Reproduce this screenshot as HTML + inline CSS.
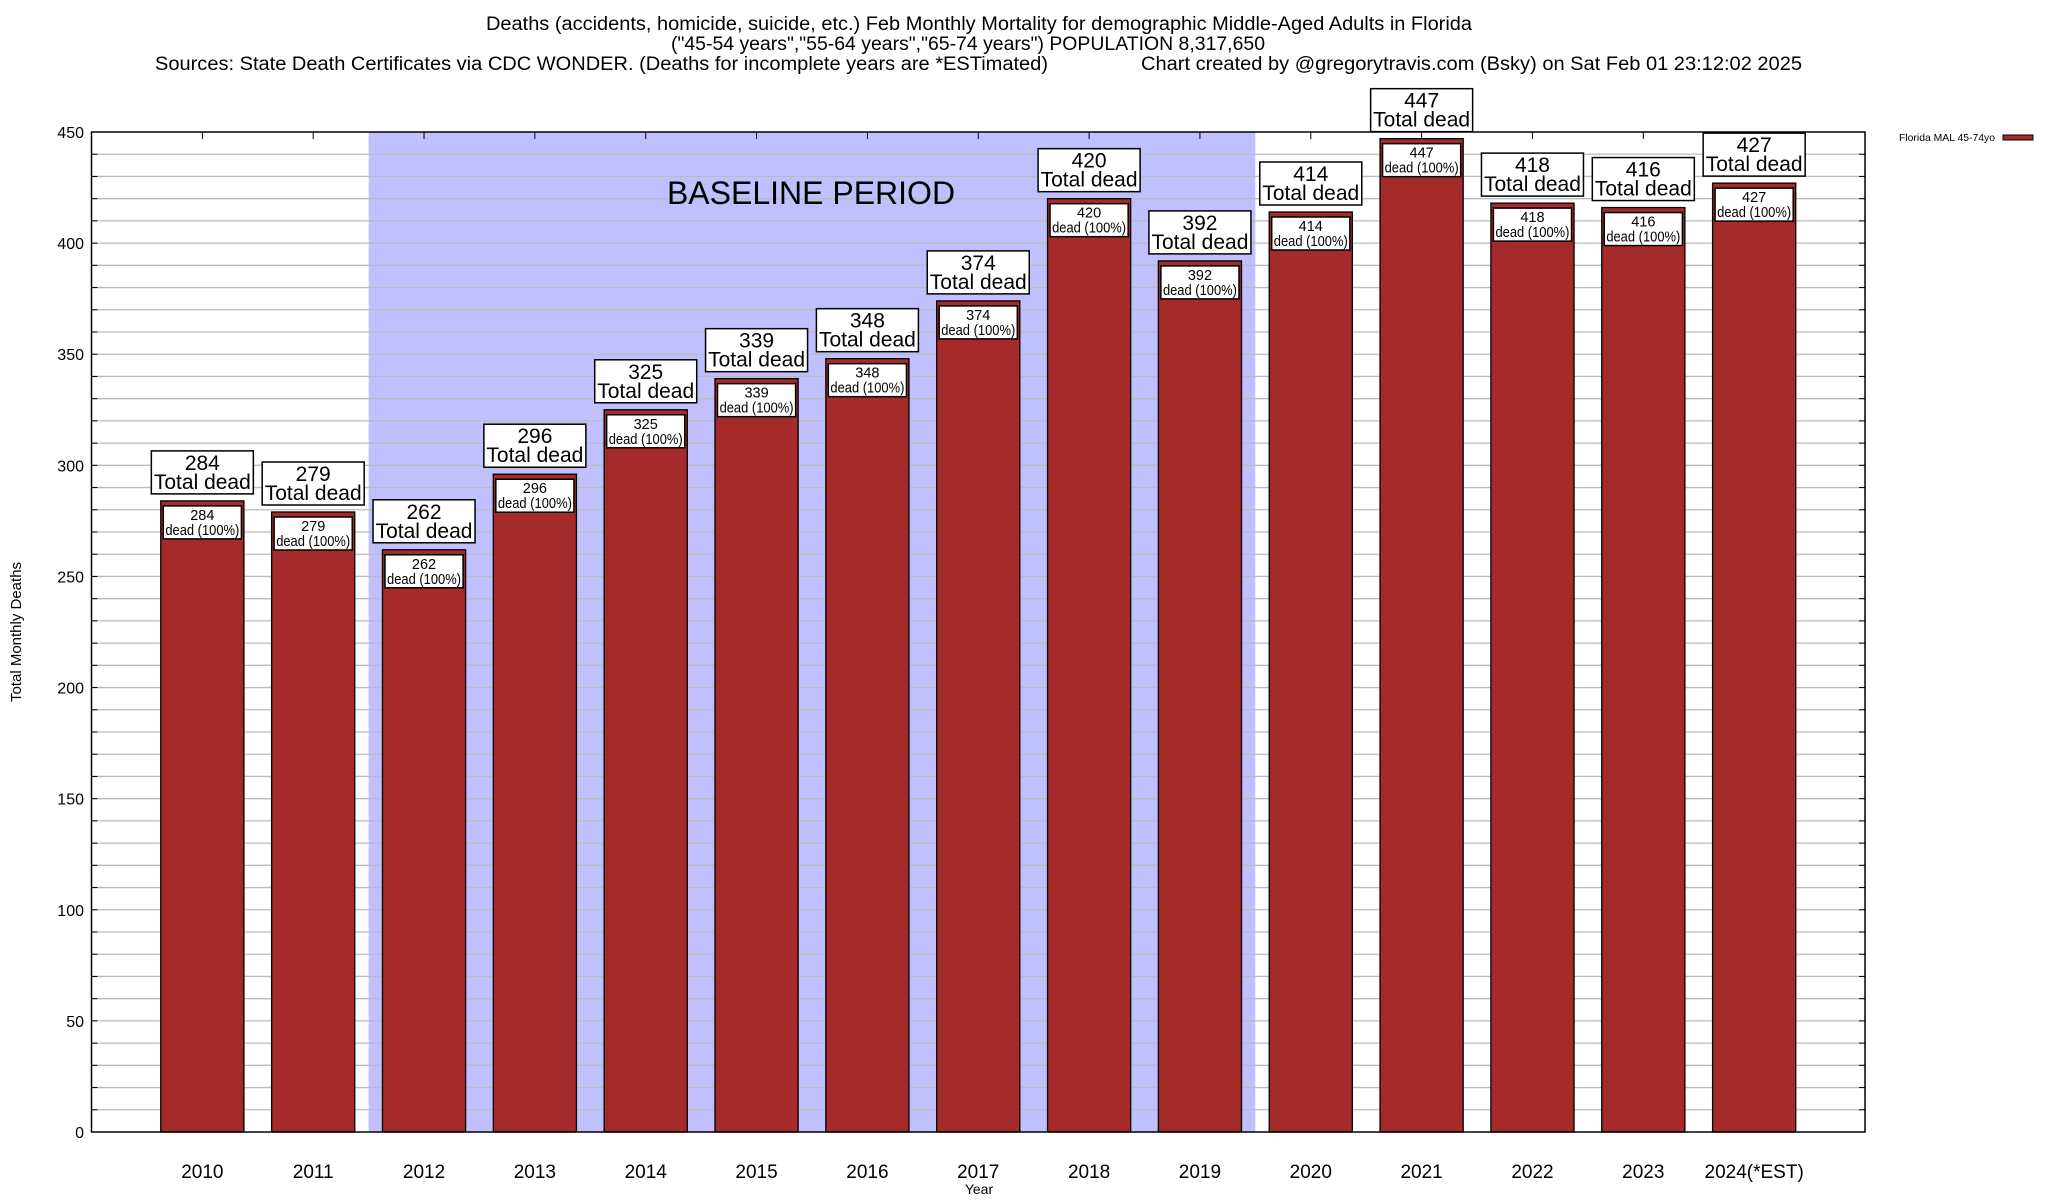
<!DOCTYPE html>
<html><head><meta charset="utf-8">
<style>
html,body{margin:0;padding:0;background:#fff;}
svg{display:block;font-family:"Liberation Sans",Arial,sans-serif;}
</style></head>
<body>
<svg id="chart" width="2048" height="1200" viewBox="0 0 2048 1200" xmlns="http://www.w3.org/2000/svg">
<text x="979" y="30" font-size="19" text-anchor="middle" textLength="986" lengthAdjust="spacingAndGlyphs">Deaths (accidents, homicide, suicide, etc.) Feb Monthly Mortality for demographic Middle-Aged Adults in Florida</text>
<text x="968" y="50" font-size="19" text-anchor="middle" textLength="594" lengthAdjust="spacingAndGlyphs">("45-54 years","55-64 years","65-74 years") POPULATION 8,317,650</text>
<text x="155" y="70" font-size="19" textLength="893" lengthAdjust="spacingAndGlyphs">Sources: State Death Certificates via CDC WONDER. (Deaths for incomplete years are *ESTimated)</text>
<text x="1141" y="70" font-size="19" textLength="661" lengthAdjust="spacingAndGlyphs">Chart created by @gregorytravis.com (Bsky) on Sat Feb 01 23:12:02 2025</text>
<g id="plot"></g>
</svg>
<script>
const categories = ["2010","2011","2012","2013","2014","2015","2016","2017","2018","2019","2020","2021","2022","2023","2024(*EST)"];
const deaths = [284,279,262,296,325,339,348,374,420,392,414,447,418,416,427];
const yTicks = [0,50,100,150,200,250,300,350,400,450];
const baselineStart = 1.5, baselineEnd = 9.5;

const NS = "http://www.w3.org/2000/svg";
const L = 91.5, R = 1865, T = 132, B = 1132, YMAX = 450;
const slot = (R - L) / (categories.length + 1);
const xPos = i => L + (i + 1) * slot;
const yPos = v => B - v / YMAX * (B - T);
const g = document.getElementById('plot');
function mk(tag, attrs, parent) {
  const e = document.createElementNS(NS, tag);
  for (const k in attrs) e.setAttribute(k, attrs[k]);
  (parent || g).appendChild(e);
  return e;
}
const shade = mk('rect', {x: xPos(baselineStart), y: T, width: xPos(baselineEnd) - xPos(baselineStart), height: B - T, fill: '#c0c0ff'});


for (let v = 10; v < YMAX; v += 10) {
  const gl = mk('line', {x1: L, x2: R, y1: yPos(v), y2: yPos(v), stroke: '#bbbbbb', 'stroke-width': 1.3});
  
  
  mk('line', {x1: L, x2: L + 6, y1: yPos(v), y2: yPos(v), stroke: '#000', 'stroke-width': 1});
  mk('line', {x1: R, x2: R - 6, y1: yPos(v), y2: yPos(v), stroke: '#000', 'stroke-width': 1});
}
const bl = mk('text', {x: 811, y: 204, 'font-size': 32, 'text-anchor': 'middle'});
bl.textContent = 'BASELINE PERIOD';


yTicks.forEach(v => {
  const t = mk('text', {x: 84, y: yPos(v) + 6, 'font-size': 16, 'text-anchor': 'end'});
  t.textContent = v;
  
  
});
const bw = slot * 0.75;
categories.forEach((c, i) => {
  const cx = xPos(i), v = deaths[i], top = yPos(v);
  mk('line', {x1: cx, x2: cx, y1: T, y2: T + 7, stroke: '#000'});
  const bar = mk('rect', {x: cx - bw / 2, y: top, width: bw, height: B - top, fill: '#a52a2a', stroke: '#000', 'stroke-width': 1.3});
  
  
  const ib = mk('rect', {x: cx - bw / 2 + 2.5, y: top + 5, width: bw - 5, height: 33, fill: '#fff', stroke: '#000', 'stroke-width': 1.5});
  
  
  const t1 = mk('text', {x: cx, y: top + 19, 'font-size': 14.5, 'text-anchor': 'middle'});
  t1.textContent = v;
  const t2 = mk('text', {x: cx, y: top + 34, 'font-size': 14.5, 'text-anchor': 'middle', textLength: 74, lengthAdjust: 'spacingAndGlyphs'});
  t2.textContent = 'dead (100%)';
  const ob = mk('rect', {x: cx - 51, y: top - 50, width: 102, height: 43, fill: '#fff', stroke: '#000', 'stroke-width': 1.5});
  
  
  const t3 = mk('text', {x: cx, y: top - 31, 'font-size': 21, 'text-anchor': 'middle'});
  t3.textContent = v;
  const t4 = mk('text', {x: cx, y: top - 12, 'font-size': 21, 'text-anchor': 'middle'});
  t4.textContent = 'Total dead';
  const xl = mk('text', {x: cx, y: 1178, 'font-size': 19, 'text-anchor': 'middle'});
  xl.textContent = c;
  
  
});
const bd = mk('rect', {x: L, y: T, width: R - L, height: B - T, fill: 'none', stroke: '#000', 'stroke-width': 1.5});


const yt = mk('text', {x: 0, y: 0, 'font-size': 15, 'text-anchor': 'middle', transform: 'translate(21,632) rotate(-90)'});
yt.textContent = 'Total Monthly Deaths';


const xt = mk('text', {x: 979, y: 1194, 'font-size': 14, 'text-anchor': 'middle'});
xt.textContent = 'Year';


const lt = mk('text', {x: 1899, y: 141, 'font-size': 10.5, textLength: 96, lengthAdjust: 'spacingAndGlyphs'});
lt.textContent = 'Florida MAL 45-74yo';


const ls = mk('rect', {x: 2003, y: 135, width: 30, height: 5, fill: '#a52a2a', stroke: '#000', 'stroke-width': 1});


</script>
</body></html>
